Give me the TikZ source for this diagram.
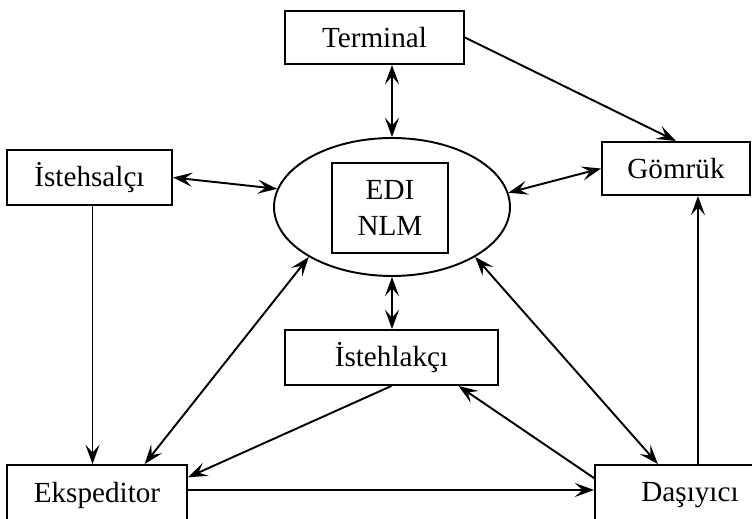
\documentclass[tikz,border=0pt]{standalone}
\usepackage{fontspec}
\setmainfont{Liberation Serif}
\usetikzlibrary{arrows.meta,shapes.geometric}

\tikzset{
  blok/.style={draw,rectangle,inner sep=0pt,font=\fontsize{16.6}{20}\selectfont},
  ox/.style={-{Stealth[length=11pt,width=8pt,inset=4.5pt]}},
  ikiox/.style={{Stealth[length=11pt,width=8pt,inset=4.5pt]}-{Stealth[length=11pt,width=8pt,inset=4.5pt]}}
}

\begin{document}
\begin{tikzpicture}[x=0.02cm,y=-0.02cm,line width=1.1pt]
            \useasboundingbox (0,0) rectangle (752,519);

            \node[blok,minimum width=3.58cm,minimum height=1.06cm] (term) at (374.5,37.5) {Terminal};
            \node[blok,minimum width=3.3cm,minimum height=1.1cm] (istehsal) at (89.5,177.5) {İstehsalçı};
            \node[blok,minimum width=2.96cm,minimum height=1.06cm] (gomruk) at (676,168.5) {Gömrük};
            \node[draw,ellipse,minimum width=4.72cm,minimum height=2.76cm] (edi) at (392,207) {};
            \node[blok,minimum width=2.32cm,minimum height=1.8cm,align=center] (nlm) at (390,208) {\raisebox{-4pt}{EDI}\\\raisebox{-4pt}{NLM}};
            \node[blok,minimum width=4.26cm,minimum height=1.1cm] (istehlak) at (391.5,357.5) {İstehlakçı};
            \node[blok,minimum width=3.6cm,minimum height=1.2cm] (eksped) at (97,495) {Ekspeditor};
            \node[blok,minimum width=3.8cm,minimum height=1.2cm] (dasiyici) at (690,495) {Daşıyıcı};

            \draw[ox] (term.east) -- (gomruk.north);
            \draw[ikiox] (edi.north) -- (edi.north |- term.south);
            \draw[ikiox] (istehsal.east) -- (edi.171);
            \draw[ikiox] (edi.7) -- (gomruk.west);
            \draw[ikiox] (edi.south) -- (edi.south |- istehlak.north);

            \draw[ox] ([xshift=0.06cm]istehsal.south) -- ([xshift=0.06cm]istehsal.south |- eksped.north);
            \draw[ikiox] (edi.211) -- (eksped.33);
            \draw[ox] (istehlak.south) -- (eksped.11);
            \draw[ox] (dasiyici.170) -- (istehlak.337);
            \draw[ikiox] (edi.329) -- (dasiyici.136);
            \draw[ox] ([xshift=0.16cm]dasiyici.north) -- ([xshift=0.16cm]dasiyici.north |- gomruk.south);
            \draw[ox] ([yshift=0.1cm]eksped.east) -- ([yshift=0.1cm]eksped.east -| dasiyici.west);
        \end{tikzpicture}
\end{document}
